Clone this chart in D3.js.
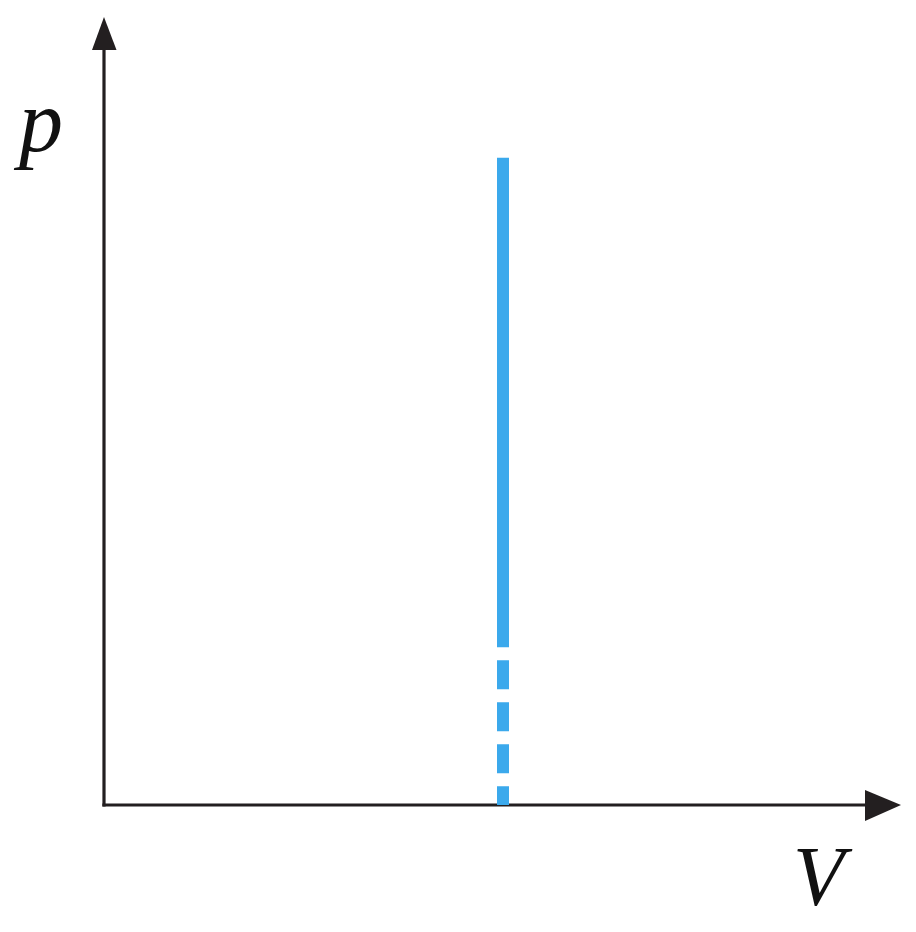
<!DOCTYPE html>
<html>
<head>
<meta charset="utf-8">
<script src="https://cdn.jsdelivr.net/npm/d3@7"></script>
<style>
html,body{margin:0;padding:0;background:#fff;}
svg{display:block;}
.lbl{font-family:"Liberation Serif","Times New Roman",serif;font-style:italic;}
</style>
</head>
<body>
<svg id="chart" width="916" height="932"></svg>
<script>
// Data
const axisLabels = ["p", "V"];
const isochoreV = [5];           // volume of the isochoric line
const solidP = [1.95, 8];        // pressure range drawn solid
const dashedP = [0, 1.95];       // pressure range drawn dashed

const svg = d3.select("#chart");
const x = d3.scaleLinear().domain([0, 10]).range([104, 902]);
const y = d3.scaleLinear().domain([0, 10]).range([805, -4]);

const axisColor = "#231f20";
const blue = "#3ba9ec";

// axes
svg.append("line")
  .attr("x1", x(0)).attr("y1", y(0) + 1.5)
  .attr("x2", x(0)).attr("y2", 45)
  .attr("stroke", axisColor).attr("stroke-width", 3.2);
svg.append("line")
  .attr("x1", x(0) - 1.6).attr("y1", y(0))
  .attr("x2", 870).attr("y2", y(0))
  .attr("stroke", axisColor).attr("stroke-width", 3.2);

// arrowheads
svg.append("path")
  .attr("d", `M${x(0)},17 L${x(0) + 12.5},50 L${x(0) - 12},50 Z`)
  .attr("fill", axisColor);
svg.append("path")
  .attr("d", `M901,${y(0)} L865,${y(0) - 15} L865,${y(0) + 16} Z`)
  .attr("fill", axisColor);

// isochoric line
const line = d3.line().x(d => x(d[0])).y(d => y(d[1]));
svg.append("path")
  .attr("d", line(solidP.map(p => [isochoreV[0], p]).reverse()))
  .attr("stroke", blue).attr("stroke-width", 12).attr("fill", "none");
svg.append("path")
  .attr("d", line(dashedP.map(p => [isochoreV[0], p]).reverse()))
  .attr("stroke", blue).attr("stroke-width", 12).attr("fill", "none")
  .attr("stroke-dasharray", "0 13 29 0");

// labels
svg.append("text")
  .attr("class", "lbl")
  .attr("x", 19).attr("y", 151)
  .attr("font-size", 88)
  .attr("fill", "#111")
  .text(axisLabels[0]);
svg.append("text")
  .attr("class", "lbl")
  .attr("x", 793).attr("y", 905)
  .attr("font-size", 84)
  .attr("fill", "#111")
  .text(axisLabels[1]);
</script>
</body>
</html>
